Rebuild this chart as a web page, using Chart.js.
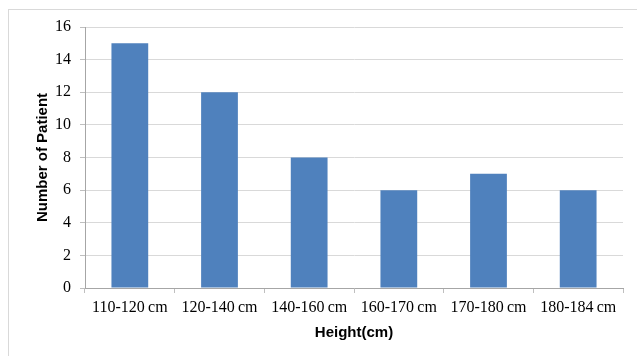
<!DOCTYPE html>
<html>
<head>
<meta charset="utf-8">
<script src="https://cdn.jsdelivr.net/npm/chart.js@4.4.1/dist/chart.umd.min.js"></script>
<style>
  html, body { margin: 0; padding: 0; background: #ffffff; overflow: hidden; }
  #wrap { position: relative; width: 637px; height: 356px; }
  #frame { position: absolute; left: 8px; top: 9px; width: 640px; height: 360px; border: 1px solid #D9D9D9; box-sizing: border-box; }
  canvas { position: absolute; left: 0; top: 0; }
</style>
</head>
<body>
<div id="wrap">
  <div id="frame"></div>
  <canvas id="chart" width="637" height="356"></canvas>
</div>
<script>
// Height groups and patient counts
const categories = ['110-120\u2009cm', '120-140\u2009cm', '140-160\u2009cm', '160-170\u2009cm', '170-180\u2009cm', '180-184\u2009cm'];
const patients = [15, 12, 8, 6, 7, 6];
const yTicks = [0, 2, 4, 6, 8, 10, 12, 14, 16];

const serif = "'Liberation Serif', 'Times New Roman', serif";
const sans = "'Liberation Sans', Arial, sans-serif";

new Chart(document.getElementById('chart'), {
  type: 'bar',
  data: {
    labels: categories,
    datasets: [{
      data: patients,
      backgroundColor: '#4F81BD',
      borderWidth: 0,
      categoryPercentage: 1,
      barPercentage: 0.41
    }]
  },
  options: {
    responsive: false,
    animation: false,
    events: [],
    layout: { padding: { left: 0, right: 14, top: 27, bottom: 0 } },
    plugins: { legend: { display: false }, tooltip: { enabled: false } },
    scales: {
      x: {
        grid: { drawOnChartArea: false, drawTicks: true, tickLength: 5, tickColor: '#BFBFBF' },
        border: { display: true, color: '#A6A6A6', width: 1 },
        ticks: { color: '#000000', font: { family: serif, size: 16 }, padding: 5, maxRotation: 0, autoSkip: false },
        title: { display: true, text: 'Height(cm)', color: '#000000', font: { family: sans, size: 15, weight: 'bold' }, padding: { top: 0, bottom: 14 } },
        afterFit(scale) { scale.height = 68; }
      },
      y: {
        min: 0,
        max: 16,
        afterBuildTicks(scale) { scale.ticks = yTicks.map(v => ({ value: v })); },
        grid: { color: '#D9D9D9', lineWidth: 1, drawTicks: true, tickLength: 5, tickColor: '#BFBFBF' },
        border: { display: true, color: '#A6A6A6', width: 1 },
        ticks: { color: '#000000', font: { family: serif, size: 16 }, padding: 9 },
        title: { display: true, text: 'Number of Patient', color: '#000000', font: { family: sans, size: 15, weight: 'bold' }, padding: { top: 34, bottom: 0 } },
        afterFit(scale) { scale.width = 85; }
      }
    }
  }
});
</script>
</body>
</html>
